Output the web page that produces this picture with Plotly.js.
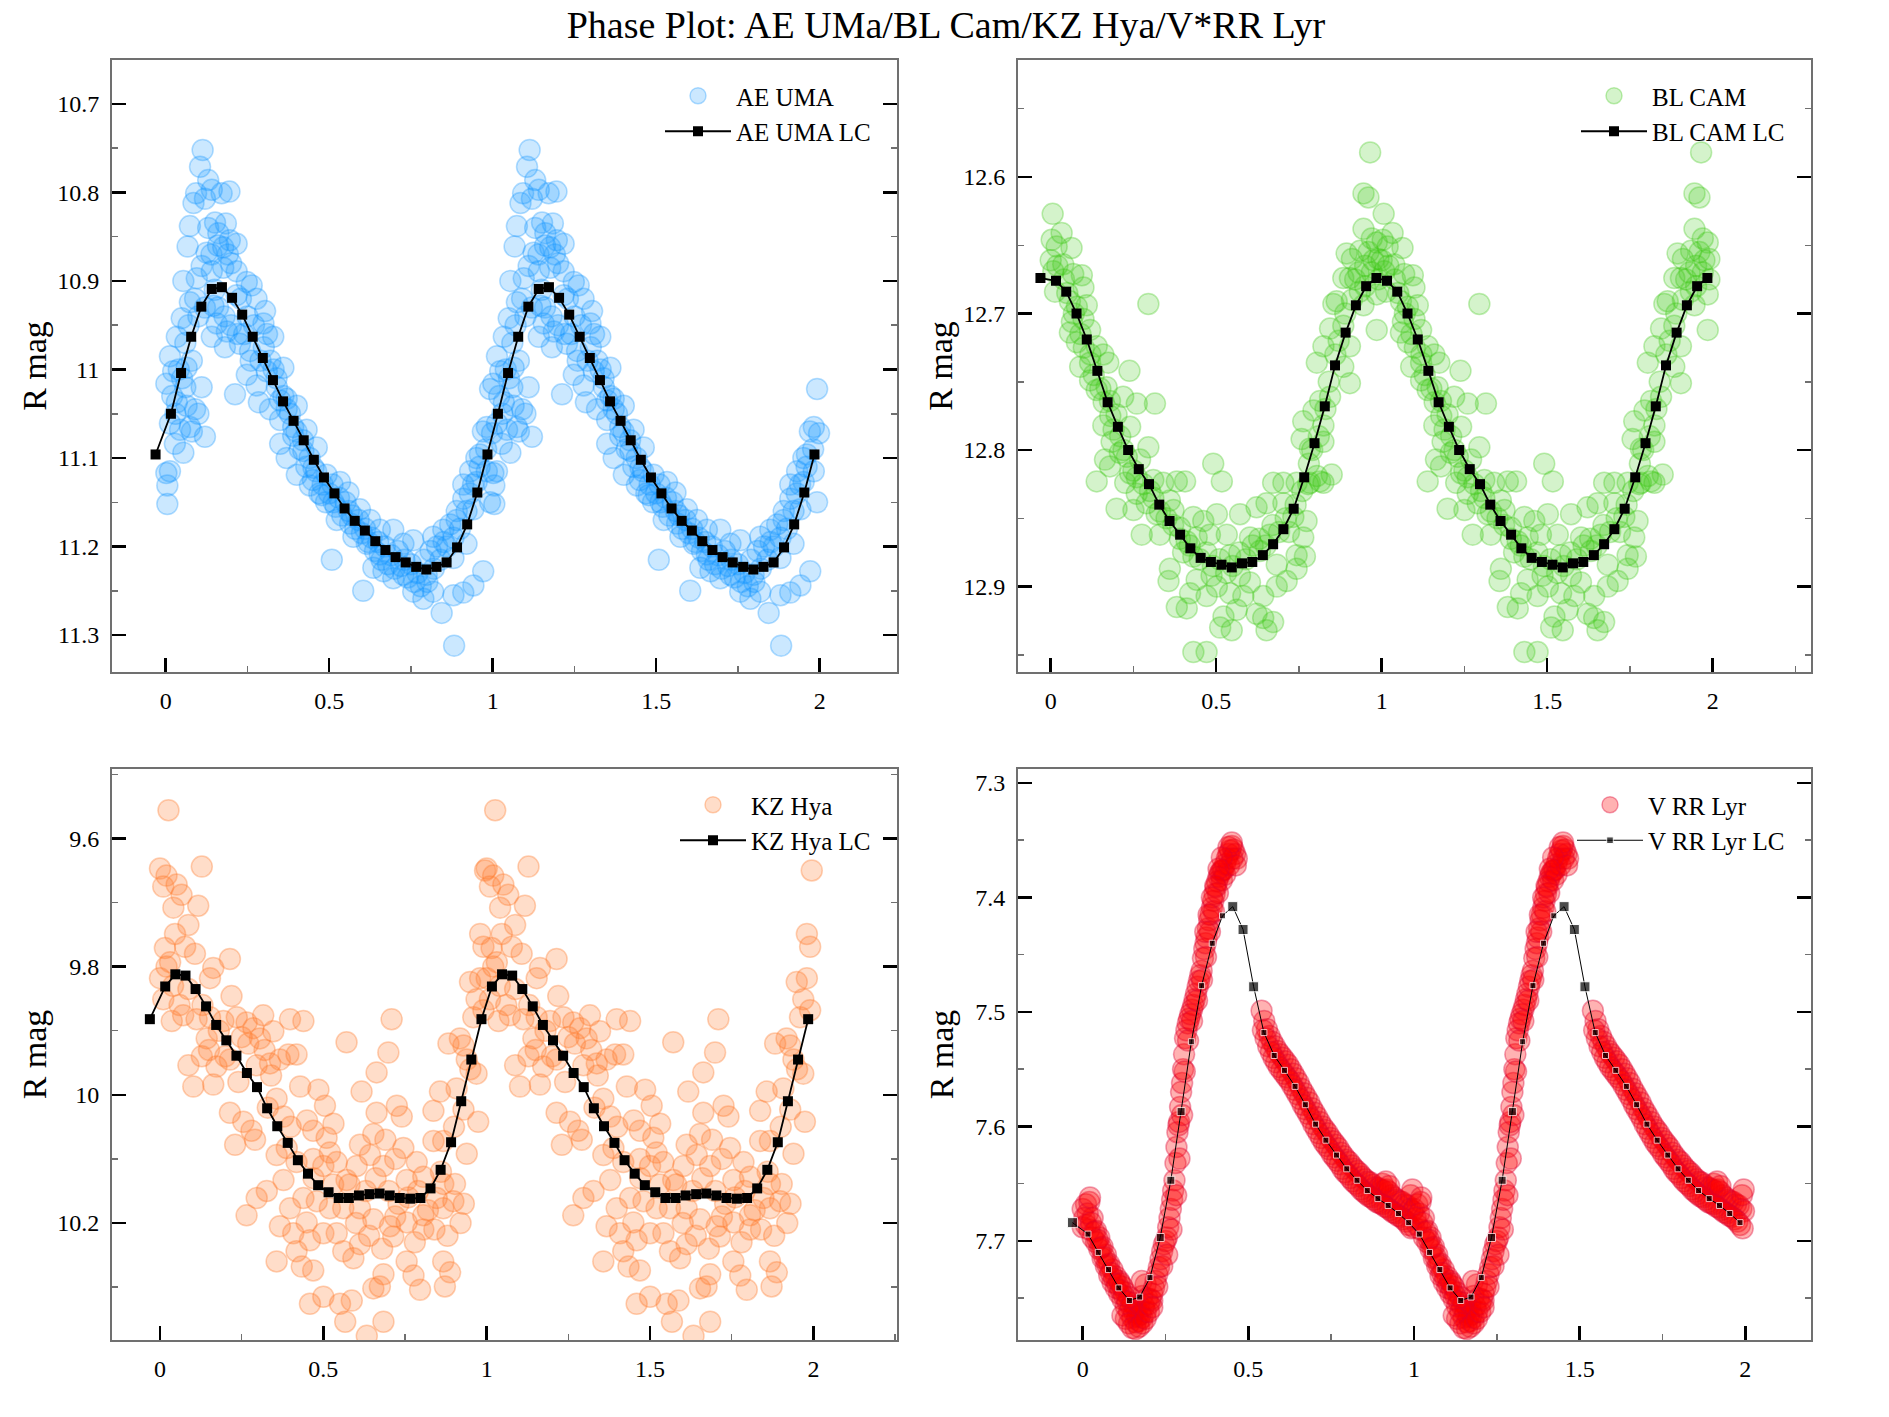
<!DOCTYPE html>
<html>
<head>
<meta charset="utf-8">
<script src="https://cdn.plot.ly/plotly-3.0.1.min.js"></script>
<style>html,body{margin:0;padding:0;background:#fff;}#chart{width:1889px;height:1417px;}</style>
</head>
<body>
<div id="chart"></div>
<script>
// ---------------- DATA ----------------
// Light-curve bin phases (one cycle) and the leading wrap-around point
const lcPhase = [0.016,0.047,0.078,0.109,0.141,0.172,0.203,0.234,0.266,0.297,0.328,0.359,0.391,0.422,0.453,0.484,
                 0.516,0.547,0.578,0.609,0.641,0.672,0.703,0.734,0.766,0.797,0.828,0.859,0.891,0.922,0.953,0.984];
const lcLeadPhase = -0.031;

const aeUmaLC = [11.050,11.004,10.963,10.929,10.909,10.907,10.919,10.938,10.963,10.987,11.012,11.036,11.058,11.080,11.102,11.122,
                 11.140,11.157,11.171,11.182,11.194,11.204,11.212,11.218,11.223,11.226,11.223,11.218,11.201,11.175,11.139,11.096];
const blCamLC = [12.676,12.684,12.700,12.719,12.742,12.765,12.783,12.800,12.814,12.825,12.840,12.852,12.862,12.872,12.879,12.882,
                 12.884,12.886,12.883,12.882,12.877,12.869,12.858,12.843,12.820,12.795,12.768,12.738,12.714,12.694,12.680,12.674];
const kzHyaLC = [9.831,9.812,9.814,9.835,9.862,9.891,9.915,9.939,9.966,9.988,10.021,10.049,10.075,10.102,10.123,10.141,
                 10.152,10.161,10.161,10.157,10.155,10.154,10.157,10.161,10.162,10.161,10.146,10.117,10.074,10.010,9.945,9.882];
const rrLyrLC = [7.694,7.710,7.725,7.741,7.752,7.749,7.732,7.697,7.647,7.587,7.526,7.477,7.440,7.416,7.408,7.428,
                 7.478,7.518,7.538,7.551,7.565,7.581,7.598,7.612,7.625,7.637,7.647,7.656,7.663,7.669,7.676,7.684];

// Observations [phase, R mag] for one cycle (plotted at phase and phase+1)
const aeUmaObs = [
[0.113,10.752],[0.105,10.771],[0.130,10.786],[0.093,10.801],[0.085,10.812],[0.120,10.807],[0.141,10.797],[0.171,10.801],[0.195,10.799],
[0.074,10.838],[0.067,10.861],[0.130,10.840],[0.151,10.834],[0.184,10.835],[0.161,10.846],[0.196,10.854],[0.217,10.858],[0.176,10.862],
[0.125,10.868],[0.110,10.883],[0.054,10.900],[0.095,10.897],[0.141,10.889],[0.176,10.885],[0.217,10.889],[0.248,10.901],[0.278,10.920],
[0.304,10.934],[0.049,10.942],[0.074,10.924],[0.034,10.963],[0.013,10.985],[0.002,11.016],[0.023,11.002],[0.064,10.998],[0.080,10.990],
[0.110,11.020],[0.212,11.028],[0.034,11.037],[0.064,11.041],[0.090,11.045],[0.013,11.061],[0.044,11.068],[0.074,11.065],[0.120,11.076],
[0.028,11.084],[0.054,11.094],[0.002,11.117],[0.013,11.115],[0.005,11.131],[0.005,11.152],[0.146,10.928],[0.156,10.948],[0.187,10.957],
[0.141,10.963],[0.181,10.975],[0.227,10.971],[0.258,10.979],[0.329,10.963],[0.299,10.948],[0.263,10.905],[0.217,10.916],[0.248,11.006],
[0.278,11.018],[0.309,11.002],[0.339,11.010],[0.360,10.998],[0.285,11.037],[0.319,11.045],[0.370,11.033],[0.401,11.041],[0.350,11.057],
[0.390,11.065],[0.431,11.068],[0.350,11.084],[0.370,11.100],[0.401,11.119],[0.441,11.131],[0.421,11.092],[0.462,11.088],[0.452,11.111],
[0.492,11.119],[0.477,11.142],[0.513,11.150],[0.533,11.127],[0.559,11.139],[0.523,11.170],[0.564,11.174],[0.594,11.158],[0.625,11.170],
[0.574,11.189],[0.615,11.197],[0.655,11.209],[0.635,11.224],[0.666,11.228],[0.696,11.236],[0.655,11.181],[0.696,11.181],[0.727,11.197],
[0.757,11.193],[0.727,11.232],[0.757,11.251],[0.788,11.259],[0.818,11.251],[0.844,11.275],[0.880,11.255],[0.910,11.252],[0.941,11.244],
[0.971,11.228],[0.798,11.232],[0.508,11.215],[0.604,11.250],[0.882,11.312],[0.818,11.189],[0.849,11.181],[0.890,11.170],[0.880,11.213],
[0.920,11.197],[0.941,11.158],[0.910,11.146],[0.951,11.127],[0.931,11.115],[0.982,11.115],[0.992,11.150],[0.961,11.096],[0.998,11.072],
[0.982,11.065],[0.992,11.022],
[0.300,10.975],[0.320,10.990],[0.340,11.020],[0.360,11.030],[0.380,11.050],[0.400,11.070],[0.420,11.080],[0.440,11.100],[0.460,11.115],
[0.480,11.130],[0.500,11.140],[0.520,11.155],[0.540,11.165],[0.560,11.160],[0.580,11.180],[0.600,11.185],[0.620,11.195],[0.640,11.205],
[0.660,11.215],[0.680,11.220],[0.700,11.225],[0.720,11.222],[0.740,11.235],[0.760,11.240],[0.780,11.245],[0.800,11.240],[0.820,11.225],
[0.840,11.215],[0.860,11.200],[0.880,11.190],[0.900,11.180],[0.920,11.160],[0.940,11.130],[0.960,11.110],[0.980,11.090],
[0.310,10.960],[0.330,11.000],[0.350,11.035],[0.370,11.045],[0.390,11.075],[0.410,11.090],[0.430,11.110],[0.450,11.125],[0.470,11.140],
[0.490,11.150],[0.510,11.130],[0.530,11.145],[0.550,11.150],[0.570,11.165],[0.590,11.170],[0.610,11.180],[0.630,11.190],[0.650,11.195],
[0.670,11.200],[0.690,11.210],[0.710,11.205],[0.730,11.215],[0.750,11.220],[0.770,11.230],[0.790,11.215],[0.810,11.205],[0.830,11.200],
[0.850,11.195],[0.870,11.175],[0.890,11.160],[0.910,11.130],[0.930,11.140],[0.950,11.100],[0.970,11.070],
[0.090,10.920],[0.100,10.940],[0.120,10.930],[0.150,10.910],[0.160,10.930],[0.180,10.940],[0.200,10.950],[0.220,10.960],[0.240,10.960],
[0.260,10.990],[0.270,10.950],[0.290,10.990],[0.060,10.970],[0.070,10.950],[0.050,11.010],[0.030,11.050],[0.020,11.030],[0.040,11.000],
[0.060,11.020],[0.080,11.070],[0.100,11.050],[0.140,10.870],[0.160,10.860],[0.190,10.870],[0.200,10.880],[0.230,10.920],[0.250,10.940]
];

const blCamObs = [
[0.965,12.582],[0.945,12.612],[0.960,12.615],[0.006,12.627],[0.003,12.646],[0.033,12.641],[0.063,12.652],[0.018,12.651],[0.000,12.661],
[0.008,12.669],[0.038,12.664],[0.068,12.671],[0.094,12.672],[0.013,12.684],[0.099,12.681],[0.058,12.691],[0.079,12.695],[0.109,12.694],
[0.064,12.706],[0.099,12.704],[0.119,12.712],[0.058,12.714],[0.079,12.721],[0.139,12.724],[0.159,12.730],[0.089,12.739],[0.119,12.736],
[0.174,12.736],[0.238,12.742],[0.295,12.693],[0.119,12.749],[0.139,12.756],[0.169,12.754],[0.179,12.764],[0.219,12.761],[0.260,12.766],
[0.315,12.766],[0.159,12.782],[0.199,12.774],[0.240,12.783],[0.184,12.794],[0.164,12.807],[0.209,12.802],[0.139,12.823],[0.179,12.812],
[0.295,12.798],[0.270,12.807],[0.240,12.817],[0.225,12.824],[0.310,12.822],[0.340,12.824],[0.381,12.823],[0.406,12.823],[0.260,12.832],
[0.290,12.839],[0.199,12.843],[0.250,12.844],[0.320,12.847],[0.360,12.837],[0.371,12.844],[0.275,12.862],[0.330,12.862],[0.391,12.857],
[0.431,12.849],[0.461,12.852],[0.491,12.810],[0.517,12.823],[0.502,12.847],[0.411,12.867],[0.441,12.864],[0.481,12.862],[0.532,12.862],
[0.572,12.847],[0.622,12.842],[0.652,12.839],[0.672,12.824],[0.703,12.824],[0.743,12.824],[0.783,12.824],[0.814,12.823],[0.849,12.818],
[0.703,12.839],[0.733,12.849],[0.773,12.852],[0.763,12.864],[0.743,12.877],[0.768,12.878],[0.743,12.887],[0.683,12.884],[0.713,12.896],
[0.683,12.900],[0.642,12.907],[0.622,12.920],[0.642,12.923],[0.672,12.926],[0.652,12.932],[0.602,12.897],[0.582,12.907],[0.562,12.917],
[0.542,12.905],[0.522,12.922],[0.512,12.930],[0.547,12.932],[0.502,12.900],[0.471,12.907],[0.441,12.895],[0.421,12.905],[0.411,12.916],
[0.381,12.915],[0.360,12.887],[0.356,12.896],[0.431,12.878],[0.486,12.892],[0.572,12.892],[0.542,12.877],[0.602,12.864],[0.632,12.874],
[0.662,12.862],[0.431,12.948],[0.471,12.948],[0.804,12.736],[0.824,12.724],[0.844,12.711],[0.864,12.691],[0.884,12.674],[0.894,12.656],
[0.945,12.638],[0.985,12.648],[0.935,12.654],[0.975,12.661],[0.904,12.674],[0.934,12.684],[0.985,12.686],[0.985,12.712],[0.854,12.693],
[0.884,12.709],[0.904,12.724],[0.884,12.739],[0.904,12.751],[0.814,12.764],[0.844,12.761],[0.794,12.771],[0.824,12.782],[0.763,12.779],
[0.758,12.792],[0.783,12.799],[0.824,12.794],[0.804,12.819],[0.778,12.825],[0.824,12.824],[0.945,12.694],
[0.020,12.665],[0.040,12.675],[0.050,12.685],[0.070,12.700],[0.090,12.715],[0.100,12.725],[0.120,12.730],[0.130,12.745],[0.150,12.755],
[0.160,12.765],[0.180,12.775],[0.190,12.785],[0.210,12.790],[0.220,12.800],[0.230,12.805],[0.250,12.815],[0.260,12.820],[0.280,12.825],
[0.300,12.830],[0.310,12.835],[0.330,12.845],[0.350,12.850],[0.370,12.855],[0.390,12.865],[0.400,12.875],[0.420,12.870],[0.450,12.880],
[0.470,12.875],[0.490,12.885],[0.510,12.880],[0.530,12.890],[0.550,12.885],[0.570,12.875],[0.590,12.880],[0.610,12.870],[0.630,12.865],
[0.650,12.870],[0.670,12.855],[0.690,12.860],[0.710,12.850],[0.720,12.860],[0.740,12.840],[0.760,12.830],[0.780,12.810],[0.790,12.800],
[0.810,12.790],[0.830,12.770],[0.840,12.750],[0.860,12.730],[0.870,12.720],[0.890,12.700],[0.910,12.690],[0.920,12.675],[0.930,12.670],
[0.950,12.665],[0.960,12.655],[0.970,12.670],[0.990,12.675],[0.910,12.660],[0.950,12.680],[0.970,12.645],[0.990,12.660]
];

const kzHyaObs = [
[0.026,9.556],[0.000,9.647],[0.128,9.644],[0.020,9.658],[0.051,9.672],[0.010,9.675],[0.066,9.688],[0.041,9.708],[0.117,9.705],[0.087,9.735],
[0.046,9.749],[0.077,9.769],[0.015,9.771],[0.107,9.780],[0.031,9.793],[0.214,9.788],[0.163,9.802],[0.000,9.818],[0.153,9.818],[0.087,9.835],
[0.010,9.851],[0.219,9.846],[0.036,9.885],[0.071,9.876],[0.112,9.882],[0.153,9.879],[0.194,9.885],[0.235,9.879],[0.265,9.887],[0.316,9.876],
[0.286,9.896],[0.347,9.901],[0.398,9.882],[0.439,9.885],[0.306,9.912],[0.143,9.912],[0.087,9.954],[0.128,9.940],[0.173,9.956],[0.214,9.945],
[0.296,9.954],[0.337,9.951],[0.367,9.945],[0.393,9.937],[0.418,9.937],[0.102,9.987],[0.163,9.984],[0.214,10.028],[0.255,10.042],[0.280,10.056],
[0.230,10.078],[0.291,10.070],[0.357,10.006],[0.378,10.034],[0.429,9.987],[0.485,9.992],[0.505,10.017],[0.531,10.045],[0.469,10.056],[0.510,10.067],
[0.388,10.083],[0.357,10.094],[0.418,10.105],[0.469,10.100],[0.500,10.111],[0.541,10.105],[0.378,10.133],[0.327,10.150],[0.296,10.161],[0.265,10.188],
[0.398,10.177],[0.439,10.161],[0.480,10.166],[0.520,10.177],[0.561,10.177],[0.367,10.205],[0.408,10.216],[0.449,10.199],[0.459,10.227],[0.418,10.244],
[0.500,10.216],[0.541,10.216],[0.561,10.244],[0.592,10.255],[0.612,10.233],[0.357,10.260],[0.434,10.268],[0.469,10.274],[0.459,10.326],[0.500,10.315],
[0.551,10.326],[0.587,10.321],[0.567,10.354],[0.633,10.376],[0.684,10.354],[0.653,10.302],[0.684,10.280],[0.673,10.299],[0.755,10.260],[0.776,10.282],
[0.796,10.304],[0.867,10.260],[0.888,10.277],[0.872,10.299],[0.571,9.918],[0.709,9.882],[0.699,9.934],[0.663,9.965],[0.617,9.995],[0.663,10.028],
[0.725,10.017],[0.740,10.034],[0.653,10.061],[0.612,10.078],[0.643,10.094],[0.602,10.111],[0.571,10.133],[0.684,10.111],[0.745,10.083],[0.786,10.105],
[0.755,10.133],[0.806,10.128],[0.612,10.177],[0.653,10.194],[0.704,10.205],[0.714,10.221],[0.755,10.199],[0.806,10.210],[0.806,10.188],[0.867,10.177],
[0.898,10.166],[0.903,10.139],[0.847,10.161],[0.867,10.139],[0.837,10.072],[0.867,10.072],[0.939,10.092],[0.974,10.042],[0.929,10.023],[0.837,10.025],
[0.857,9.995],[0.908,9.990],[0.969,9.967],[0.939,9.945],[0.929,9.923],[0.883,9.920],[0.918,9.912],[0.959,9.879],[0.990,9.868],[0.969,9.851],
[0.949,9.824],[0.980,9.818],[0.990,9.769],[0.980,9.749],[0.995,9.650],
[0.060,9.860],[0.130,9.860],[0.180,9.900],[0.250,9.910],[0.320,9.930],[0.340,9.970],[0.450,10.040],[0.520,10.090],[0.580,10.140],[0.630,10.150],
[0.660,10.130],[0.700,10.150],[0.730,10.170],[0.760,10.160],[0.790,10.150],[0.820,10.180],[0.600,10.200],[0.640,10.220],[0.680,10.240],[0.720,10.190],
[0.780,10.230],[0.840,10.210],[0.880,10.220],[0.920,10.200],[0.930,10.170],[0.860,10.120],[0.950,9.960],[0.900,10.050],[0.270,9.920],[0.200,9.940],
[0.150,9.930],[0.040,9.830],[0.020,9.800],[0.470,10.130],[0.530,10.140],[0.690,10.070],[0.720,10.100],[0.400,10.050],[0.330,10.020],[0.240,9.980]
];

const rrLyrObs = [
// minimum branch
[0.000,7.672],[0.010,7.668],[0.020,7.666],[0.030,7.680],[0.040,7.691],[0.050,7.697],[0.060,7.705],[0.070,7.712],[0.080,7.720],[0.090,7.725],
[0.100,7.731],[0.110,7.735],[0.120,7.740],[0.130,7.745],[0.140,7.749],[0.150,7.754],[0.160,7.758],[0.170,7.756],[0.180,7.748],[0.190,7.738],
[0.000,7.688],[0.010,7.686],[0.020,7.690],[0.030,7.697],[0.040,7.701],[0.050,7.707],[0.060,7.715],[0.070,7.722],[0.080,7.730],[0.090,7.736],
[0.100,7.741],[0.110,7.746],[0.120,7.751],[0.130,7.757],[0.140,7.762],[0.150,7.767],[0.160,7.771],[0.170,7.770],[0.180,7.767],[0.190,7.762],
[0.005,7.680],[0.015,7.676],[0.025,7.684],[0.035,7.692],[0.045,7.699],[0.055,7.706],[0.065,7.714],[0.075,7.721],[0.085,7.728],[0.095,7.733],
[0.105,7.738],[0.115,7.743],[0.125,7.748],[0.135,7.753],[0.145,7.757],[0.155,7.762],[0.165,7.766],[0.175,7.764],[0.185,7.757],[0.195,7.750],
[0.022,7.662],[0.178,7.735],[0.113,7.737],
[0.120,7.765],[0.130,7.768],[0.140,7.772],[0.150,7.776],[0.160,7.777],[0.170,7.775],[0.180,7.772],[0.190,7.768],[0.200,7.762],[0.210,7.752],
// rising branch
[0.200,7.755],[0.205,7.751],[0.210,7.746],[0.215,7.741],[0.220,7.735],[0.225,7.729],[0.230,7.723],[0.235,7.716],[0.240,7.709],[0.245,7.703],
[0.250,7.700],[0.254,7.697],[0.258,7.688],[0.262,7.680],[0.266,7.672],[0.270,7.664],[0.273,7.656],[0.277,7.647],[0.280,7.632],[0.283,7.618],
[0.286,7.605],[0.289,7.599],[0.291,7.596],[0.294,7.583],[0.297,7.570],[0.300,7.562],[0.303,7.550],[0.306,7.537],[0.309,7.523],[0.313,7.516],
[0.317,7.510],[0.321,7.506],[0.325,7.502],[0.330,7.498],[0.334,7.494],[0.338,7.489],[0.342,7.484],[0.347,7.478],[0.351,7.473],[0.355,7.468],
[0.359,7.464],[0.363,7.453],[0.367,7.445],[0.371,7.440],[0.374,7.435],[0.378,7.427],[0.382,7.420],[0.386,7.415],[0.390,7.409],[0.394,7.403],
[0.398,7.397],[0.402,7.391],[0.406,7.386],[0.410,7.382],[0.414,7.379],[0.418,7.377],[0.422,7.376],[0.425,7.376],[0.430,7.371],[0.435,7.366],
[0.440,7.362],[0.445,7.359],[0.450,7.355],[0.455,7.358],[0.460,7.362],[0.465,7.366],
[0.210,7.758],[0.225,7.740],[0.240,7.722],[0.255,7.712],[0.268,7.690],[0.282,7.660],[0.292,7.628],[0.300,7.590],[0.308,7.552],[0.318,7.525],
[0.330,7.508],[0.345,7.490],[0.360,7.472],[0.372,7.452],[0.384,7.430],[0.396,7.412],[0.408,7.396],[0.420,7.385],[0.430,7.380],[0.442,7.372],
[0.452,7.366],[0.462,7.372],[0.440,7.356],[0.450,7.352],[0.420,7.365],[0.410,7.375],[0.400,7.390],[0.390,7.400],[0.380,7.415],[0.370,7.430],
// declining branch
[0.540,7.499],[0.548,7.508],[0.556,7.515],[0.564,7.521],[0.572,7.526],[0.580,7.530],[0.588,7.534],[0.596,7.537],[0.604,7.540],[0.612,7.543],
[0.620,7.546],[0.628,7.550],[0.636,7.554],[0.644,7.558],[0.652,7.562],[0.660,7.567],[0.668,7.571],[0.676,7.575],[0.684,7.579],[0.692,7.584],
[0.700,7.588],[0.708,7.592],[0.716,7.596],[0.724,7.600],[0.732,7.603],[0.740,7.606],[0.748,7.610],[0.756,7.613],[0.764,7.616],[0.772,7.619],
[0.780,7.623],[0.788,7.626],[0.796,7.629],[0.804,7.631],[0.812,7.634],[0.820,7.637],[0.828,7.639],[0.836,7.641],[0.844,7.644],[0.852,7.646],
[0.860,7.648],[0.868,7.649],[0.876,7.651],[0.884,7.653],[0.892,7.654],[0.900,7.655],[0.908,7.656],[0.916,7.655],[0.924,7.657],[0.932,7.660],
[0.940,7.662],[0.948,7.664],[0.956,7.665],[0.964,7.666],[0.972,7.668],[0.980,7.669],[0.988,7.672],[0.996,7.674],
[0.544,7.516],[0.552,7.523],[0.560,7.530],[0.568,7.535],[0.576,7.540],[0.584,7.544],[0.592,7.548],[0.600,7.551],[0.608,7.554],[0.616,7.557],
[0.624,7.560],[0.632,7.564],[0.640,7.568],[0.648,7.572],[0.656,7.576],[0.664,7.581],[0.672,7.585],[0.680,7.589],[0.688,7.593],[0.696,7.598],
[0.704,7.602],[0.712,7.606],[0.720,7.610],[0.728,7.614],[0.736,7.617],[0.744,7.620],[0.752,7.624],[0.760,7.627],[0.768,7.630],[0.776,7.633],
[0.784,7.637],[0.792,7.640],[0.800,7.642],[0.808,7.645],[0.816,7.648],[0.824,7.650],[0.832,7.652],[0.840,7.655],[0.848,7.657],[0.856,7.659],
[0.864,7.661],[0.872,7.662],[0.880,7.664],[0.888,7.666],[0.896,7.667],[0.904,7.668],[0.912,7.670],[0.920,7.671],[0.928,7.673],[0.936,7.675],
[0.944,7.676],[0.952,7.678],[0.960,7.679],[0.968,7.681],[0.976,7.683],[0.984,7.686],[0.992,7.689],
[0.905,7.650],[0.915,7.648],[0.925,7.652],[0.990,7.660],[0.995,7.655]
];

// LC marker sizes for V RR Lyr (style only): bins drawn with larger squares
const rrBigBins = [14, 15, 16];
const rrMidBins = [7, 8, 9];

// ---------------- BUILD ----------------
function obsX(obs){ return obs.map(p=>p[0]).concat(obs.map(p=>p[0]+1)); }
function obsY(obs){ return obs.map(p=>p[1]).concat(obs.map(p=>p[1])); }
function lcX(){ return [lcLeadPhase].concat(lcPhase, lcPhase.map(p=>p+1)); }
function lcY(v){ return [v[v.length-1]].concat(v, v); }

const FONT = 'Liberation Serif, Times New Roman, serif';

function obsTrace(name, obs, fill, edge, xa, ya, leg){
  return {type:'scatter', mode:'markers', name:name, x:obsX(obs), y:obsY(obs), xaxis:xa, yaxis:ya, legend:leg,
    marker:{symbol:'circle', size:21, color:fill, line:{color:edge, width:1.5}}};
}
function lcTrace(name, v, xa, ya, leg, lw, msize){
  return {type:'scatter', mode:'lines+markers', name:name, x:lcX(), y:lcY(v), xaxis:xa, yaxis:ya, legend:leg,
    line:{color:'black', width:lw}, marker:{symbol:'square', size:msize, color:'black'}};
}

const rrSizes = [10];
for (let c=0;c<2;c++){ for (let k=0;k<32;k++){ rrSizes.push(rrBigBins.includes(k)?10:(rrMidBins.includes(k)?8:6)); } }

const traces = [
  obsTrace('AE UMA', aeUmaObs, 'rgba(20,150,255,0.22)', 'rgba(20,150,255,0.32)', 'x', 'y', 'legend'),
  lcTrace('AE UMA LC', aeUmaLC, 'x', 'y', 'legend', 1.8, 10),
  obsTrace('BL CAM', blCamObs, 'rgba(60,200,20,0.22)', 'rgba(60,200,20,0.32)', 'x2', 'y2', 'legend2'),
  lcTrace('BL CAM LC', blCamLC, 'x2', 'y2', 'legend2', 1.8, 10),
  obsTrace('KZ Hya', kzHyaObs, 'rgba(255,120,40,0.25)', 'rgba(255,120,40,0.35)', 'x3', 'y3', 'legend3'),
  lcTrace('KZ Hya LC', kzHyaLC, 'x3', 'y3', 'legend3', 1.8, 10),
  obsTrace('V RR Lyr', rrLyrObs, 'rgba(255,0,0,0.3)', 'rgba(220,0,50,0.38)', 'x4', 'y4', 'legend4'),
  lcTrace('V RR Lyr LC', rrLyrLC, 'x4', 'y4', 'legend4', 1, rrSizes)
];

const W = 1889, H = 1417;
function xAxis(px0, px1, range, anchor){
  return {domain:[px0/W, px1/W], range:range, anchor:anchor, dtick:0.5, tick0:0,
    showline:true, linecolor:'#707070', linewidth:2, mirror:true,
    ticks:'inside', ticklen:14, tickwidth:2.5, tickcolor:'#000',
    minor:{dtick:0.25, ticks:'inside', ticklen:6, tickwidth:1.5, tickcolor:'#707070', showgrid:false},
    showgrid:false, zeroline:false, tickfont:{size:24, family:FONT, color:'#000'}, ticklabelstandoff:6};
}
function yAxis(py0, py1, range, anchor, dtick, standoff){
  return {domain:[1-py1/H, 1-py0/H], range:range, anchor:anchor, dtick:dtick, tick0:0,
    showline:true, linecolor:'#707070', linewidth:2, mirror:'ticks',
    ticks:'inside', ticklen:14, tickwidth:2.5, tickcolor:'#000',
    minor:{dtick:dtick/2, ticks:'inside', ticklen:6, tickwidth:1.5, tickcolor:'#707070', showgrid:false},
    showgrid:false, zeroline:false, tickfont:{size:24, family:FONT, color:'#000'}, ticklabelstandoff:6,
    title:{text:'R mag', font:{size:34, family:FONT, color:'#000'}, standoff:standoff}};
}
function legend(pxRight, pyTop){
  return {x:pxRight/W, y:1-pyTop/H, xanchor:'right', yanchor:'top', bgcolor:'rgba(0,0,0,0)', borderwidth:0,
    font:{size:25, family:FONT, color:'#000'}, itemwidth:66, tracegroupgap:0};
}

const layout = {
  width:W, height:H, margin:{l:0, r:0, t:0, b:0}, paper_bgcolor:'#fff', plot_bgcolor:'#fff',
  font:{family:FONT, color:'#000'}, showlegend:true,
  title:{text:'Phase Plot: AE UMa/BL Cam/KZ Hya/V*RR Lyr', x:946/W, xanchor:'center', y:1-24.5/H, yanchor:'middle',
         font:{size:38, family:FONT, color:'#000'}},
  xaxis: xAxis(112, 897, [-0.1642, 2.2364], 'y'),
  yaxis: yAxis(60, 672, [11.3418, 10.6503], 'x', 0.1, 0),
  xaxis2: xAxis(1018, 1811, [-0.0988, 2.297], 'y2'),
  yaxis2: yAxis(60, 672, [12.9626, 12.5143], 'x2', 0.1, 0),
  xaxis3: xAxis(112, 897, [-0.1469, 2.2559], 'y3'),
  yaxis3: yAxis(769, 1340, [10.3825, 9.4917], 'x3', 0.2, 0),
  xaxis4: xAxis(1018, 1811, [-0.1953, 2.1983], 'y4'),
  yaxis4: yAxis(769, 1340, [7.7865, 7.2878], 'x4', 0.1, 11),
  legend: legend(876, 73),
  legend2: legend(1790, 73),
  legend3: legend(876, 782),
  legend4: legend(1790, 782)
};

Plotly.newPlot('chart', traces, layout, {staticPlot:true, displayModeBar:false});
</script>
</body>
</html>
